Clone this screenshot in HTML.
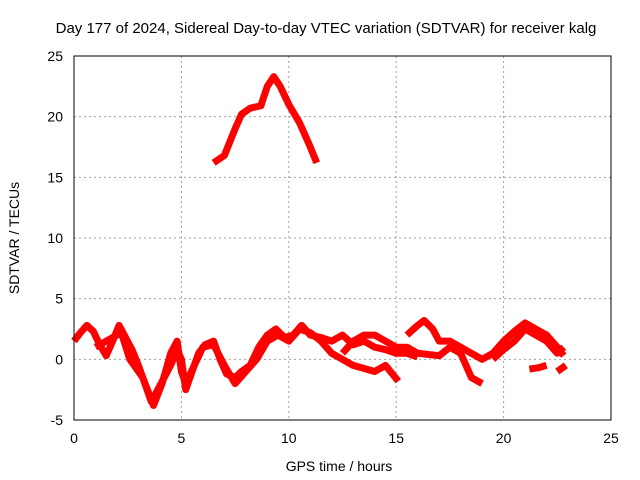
<!DOCTYPE html>
<html><head><meta charset="utf-8"><style>
body{margin:0;background:#fff}
svg{display:block;font-family:"Liberation Sans",sans-serif}
</style></head><body>
<svg id="chart" width="640" height="480" viewBox="0 0 640 480">
<rect width="640" height="480" fill="#fff"/>
<text x="326" y="33" text-anchor="middle" font-size="15">Day 177 of 2024, Sidereal Day-to-day VTEC variation (SDTVAR) for receiver kalg</text>
<g id="grid"></g>
<g id="series"></g>
<rect x="74" y="56" width="537" height="364" fill="none" stroke="#000" stroke-width="1"/>
<g id="ticks"></g>
<text x="339" y="471" text-anchor="middle" font-size="14">GPS time / hours</text>
<text transform="translate(19,238) rotate(-90)" text-anchor="middle" font-size="14">SDTVAR / TECUs</text>
</svg>
<script>
const xTicks=[0,5,10,15,20,25];
const yTicks=[-5,0,5,10,15,20,25];
const peakT=[6.5,7,7.5,7.8,8.2,8.7,9.0,9.3,9.6,10,10.5,11,11.3];
const peakV=[16.2,16.8,19,20.2,20.7,20.9,22.5,23.3,22.5,21,19.5,17.5,16.2];
const s1T=[0,0.3,0.6,0.9,1.2,1.5,1.8,2.1,2.4,2.7,3.0,3.3,3.6,3.9,4.2,4.5,4.8,5.0,5.2,5.5,5.8,6.1,6.5,6.8,7.1,7.5,7.8,8.2,8.6,9.0,9.4,9.8,10.2,10.6,11,11.5,12,12.5,13,13.5,14,14.5,15,15.5,16];
const s1V=[1.5,2.2,2.8,2.3,1.2,0.3,1.5,2.8,1.8,0.8,-0.5,-2,-3.5,-2.5,-1.5,-0.5,0.8,0,-2.5,-1,0.5,1.2,1.5,0,-1.2,-1.5,-1,-0.5,1,2,2.5,1.8,2,2.8,2,1.8,1.5,2,1.2,1.5,1,0.8,0.5,0.5,0.2];
const s2T=[1.0,1.5,2.2,2.6,3.2,3.7,4.1,4.5,4.8,5.0,5.2,5.6,6.0,6.5,7.0,7.5,8,8.5,9,9.5,10,10.5,11,11.5,12,13,14,14.5,15.1];
const s2V=[1,1.5,2.2,0,-1.5,-3.8,-2,0.5,1.5,-1,-2,-0.5,1,1.2,-0.5,-2,-1,0,1.5,2,1.5,2.5,2.2,1.5,0.5,-0.5,-1,-0.5,-1.8];
const s3T=[12.5,13,13.5,14,14.5,15,15.5,16,17,17.5,18,18.5,19];
const s3V=[0.5,1.5,2,2,1.5,1,1,0.5,0.3,1,0.5,-1.5,-2];
const s4T=[15.5,16,16.3,16.7,17,17.5,18,18.5,19,19.5,20,20.5,21,21.5,22,22.5,22.8];
const s4V=[2,2.8,3.2,2.5,1.5,1.5,1,0.5,0,0.5,1.5,2.3,3,2.5,2,1,0.3];
const s5T=[19.5,20,20.5,21,21.5,22,22.5,22.8];
const s5V=[0,0.8,1.5,2.5,2,1.5,0.5,1];
const s6T=[21.2,21.6,22];
const s6V=[-0.8,-0.7,-0.5];
const s7T=[22.5,22.9];
const s7V=[-1,-0.5];
const X=t=>74+t*537/25, Y=v=>420-(v+5)*364/30;
const NS="http://www.w3.org/2000/svg";
const g=document.getElementById('grid'), tk=document.getElementById('ticks'), sr=document.getElementById('series');
xTicks.forEach(t=>{
 if(t>0&&t<25){const l=document.createElementNS(NS,'line');
 
 
 l.setAttribute('x1',X(t));l.setAttribute('x2',X(t));l.setAttribute('y1',56);l.setAttribute('y2',420);
 l.setAttribute('stroke','#a0a0a0');l.setAttribute('stroke-dasharray','2,3');g.appendChild(l);}
 const tx=document.createElementNS(NS,'text');
 
 
 tx.setAttribute('x',X(t));tx.setAttribute('y',443);tx.setAttribute('text-anchor','middle');tx.setAttribute('font-size','14');tx.textContent=t;tk.appendChild(tx);
});
yTicks.forEach(v=>{
 if(v>-5&&v<25){const l=document.createElementNS(NS,'line');
 
 
 l.setAttribute('x1',74);l.setAttribute('x2',611);l.setAttribute('y1',Y(v));l.setAttribute('y2',Y(v));
 l.setAttribute('stroke','#a0a0a0');l.setAttribute('stroke-dasharray','2,3');g.appendChild(l);}
 const tx=document.createElementNS(NS,'text');
 
 
 tx.setAttribute('x',63);tx.setAttribute('y',Y(v)+5);tx.setAttribute('text-anchor','end');tx.setAttribute('font-size','14');tx.textContent=v;tk.appendChild(tx);
});
[[peakT,peakV],[s1T,s1V],[s2T,s2V],[s3T,s3V],[s4T,s4V],[s5T,s5V],[s6T,s6V],[s7T,s7V]].forEach(([T,V])=>{
 const p=document.createElementNS(NS,'polyline');
 
 
 p.setAttribute('points',T.map((t,i)=>X(t)+','+Y(V[i])).join(' '));
 p.setAttribute('fill','none');p.setAttribute('stroke','#ff0000');p.setAttribute('stroke-width','7');p.setAttribute('stroke-linejoin','round');
 sr.appendChild(p);
});
</script>
</body></html>
